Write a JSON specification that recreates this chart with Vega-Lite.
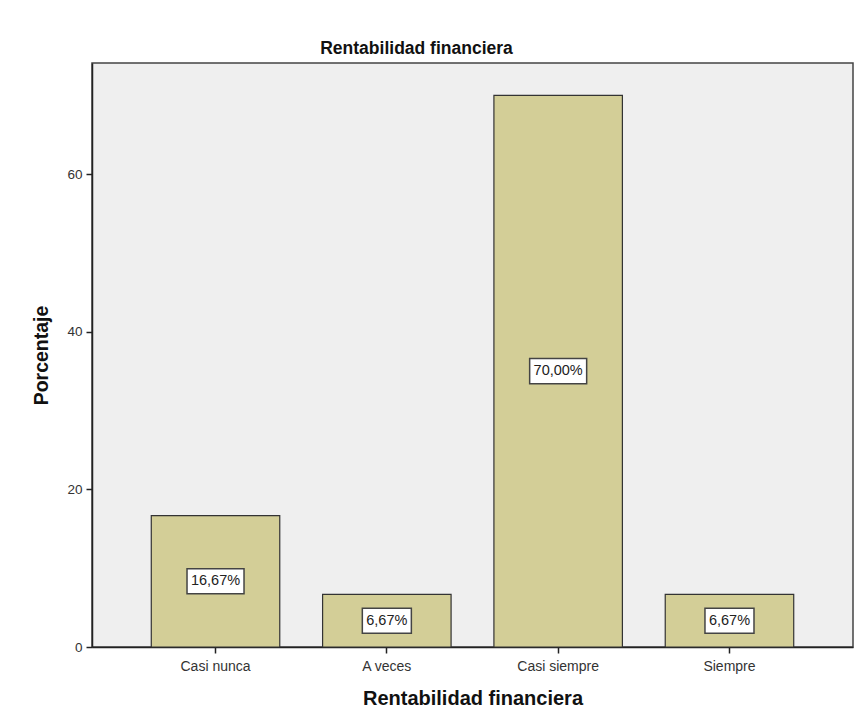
{
  "$schema": "https://vega.github.io/schema/vega-lite/v6.json",
  "width": 761,
  "height": 584,
  "autosize": {"type": "none"},
  "padding": {"left": 92, "top": 63, "right": 2, "bottom": 79},
  "background": "white",
  "title": {
    "text": "Rentabilidad financiera",
    "font": "Liberation Sans",
    "fontSize": 17.5,
    "fontWeight": "bold",
    "color": "#111111",
    "anchor": "middle",
    "frame": "group",
    "dx": -56,
    "offset": 6
  },
  "config": {
    "view": {"fill": "#efefef", "stroke": "#444444", "strokeWidth": 1.5},
    "font": "Liberation Sans"
  },
  "data": {
    "values": [
      {"cat": "Casi nunca", "pct": 16.67, "label": "16,67%"},
      {"cat": "A veces", "pct": 6.67, "label": "6,67%"},
      {"cat": "Casi siempre", "pct": 70.0, "label": "70,00%"},
      {"cat": "Siempre", "pct": 6.67, "label": "6,67%"}
    ]
  },
  "transform": [{"calculate": "datum.pct / 2", "as": "mid"}],
  "encoding": {
    "x": {
      "field": "cat",
      "type": "nominal",
      "sort": null,
      "scale": {"paddingInner": 0.25, "paddingOuter": 0.346},
      "axis": {
        "title": "Rentabilidad financiera",
        "titleFont": "Liberation Sans",
        "titleFontSize": 20,
        "titleFontWeight": "bold",
        "titleColor": "#111111",
        "titlePadding": 15,
        "labelAngle": 0,
        "labelFont": "Liberation Sans",
        "labelFontSize": 14,
        "labelColor": "#333333",
        "labelPadding": 6,
        "tickSize": 6,
        "tickColor": "#222222",
        "tickWidth": 1.5,
        "domainColor": "#222222",
        "domainWidth": 1.5
      }
    }
  },
  "layer": [
    {
      "mark": {"type": "bar", "color": "#d3ce97", "stroke": "#333333", "strokeWidth": 1.2},
      "encoding": {
        "y": {
          "field": "pct",
          "type": "quantitative",
          "scale": {"domain": [0, 74.1], "nice": false, "zero": true},
          "axis": {
            "title": "Porcentaje",
            "titleFont": "Liberation Sans",
            "titleFontSize": 19.5,
            "titleFontWeight": "bold",
            "titleColor": "#111111",
            "titlePadding": 15,
            "values": [0, 20, 40, 60],
            "grid": false,
            "labelFont": "Liberation Sans",
            "labelFontSize": 13.5,
            "labelColor": "#333333",
            "labelPadding": 4,
            "tickSize": 6,
            "tickColor": "#222222",
            "tickWidth": 1.5,
            "domainColor": "#222222",
            "domainWidth": 1.5
          }
        }
      }
    },
    {
      "mark": {"type": "point", "filled": true, "fill": "white", "stroke": "#444444", "strokeWidth": 1.5, "opacity": 1, "size": 3249},
      "encoding": {
        "y": {"field": "mid", "type": "quantitative"},
        "shape": {
          "condition": {"test": "datum.pct < 10", "value": "M-0.86,-0.44L0.86,-0.44L0.86,0.44L-0.86,0.44Z"},
          "value": "M-1,-0.44L1,-0.44L1,0.44L-1,0.44Z"
        }
      }
    },
    {
      "mark": {"type": "text", "font": "Liberation Sans", "fontSize": 14.5, "color": "#222222", "baseline": "middle", "align": "center"},
      "encoding": {
        "y": {"field": "mid", "type": "quantitative"},
        "text": {"field": "label"}
      }
    }
  ]
}
